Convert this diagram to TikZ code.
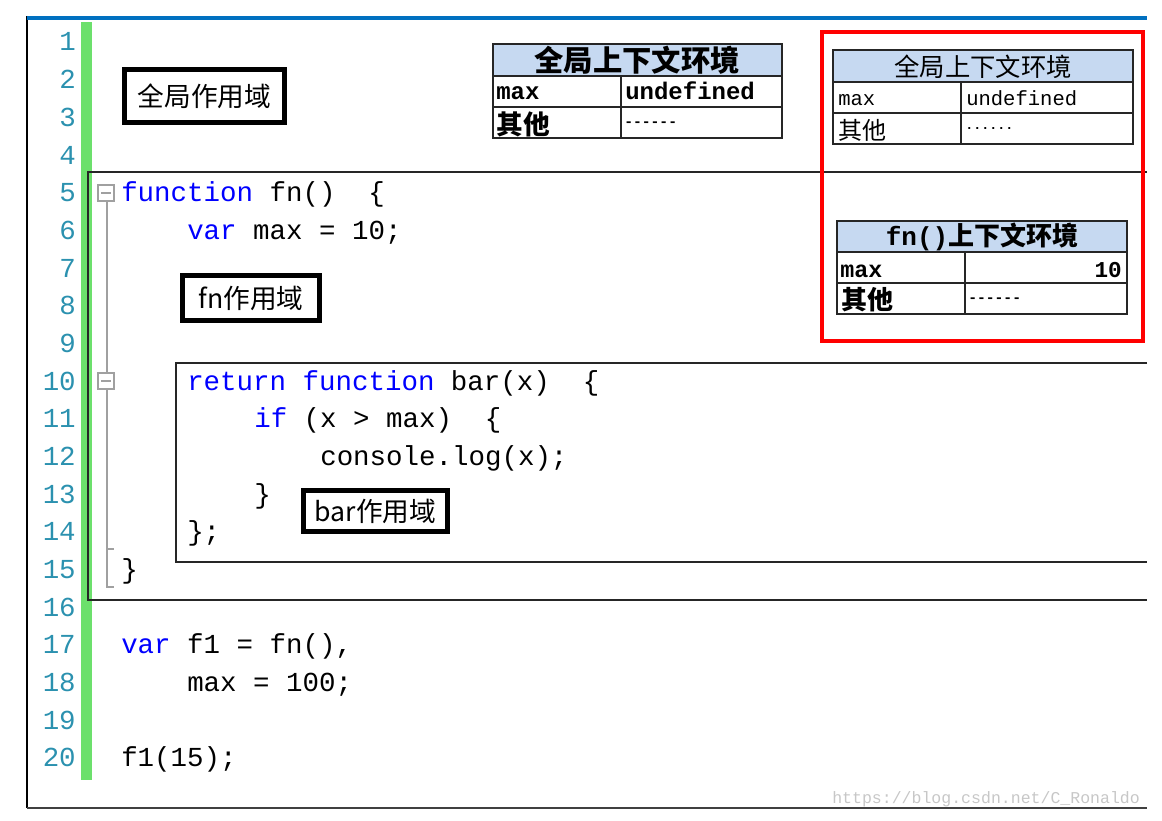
\documentclass[tikz,border=0pt]{standalone}
\usepackage{fontspec}
\setmonofont{Liberation Mono}
\newfontfamily\cjkfont{Noto Sans CJK SC}
\usetikzlibrary{positioning}
\definecolor{KW-BLUE}{RGB}{0,0,255}
\definecolor{LN-TEAL}{RGB}{43,145,175}
\definecolor{BAR-GREEN}{RGB}{108,224,108}
\definecolor{HEAD-BLUE}{RGB}{198,217,241}
\definecolor{FRAME-BLUE}{RGB}{0,112,192}
\definecolor{FOLD-GRAY}{RGB}{160,160,160}
\newcommand\kw[1]{\textcolor{KW-BLUE}{#1}}
\newcommand\codesize{\fontsize{20.6}{24}\selectfont}

\begin{document}
\begin{tikzpicture}[x=0.75pt,y=-0.75pt,
    codeline/.style={anchor=base west, inner sep=0pt, font=\ttfamily\codesize},
    lineno/.style={anchor=base east, inner sep=0pt, LN-TEAL, font=\ttfamily\codesize},
    scopebox/.style={draw, line width=3.5pt, inner sep=0pt, font=\cjkfont\fontsize{20}{24}\selectfont},
    cell/.style={anchor=base west, inner sep=0pt},
    grid/.style={draw=black!85, line width=1.2pt}]
  \useasboundingbox (0,0) rectangle (1162,820);

  % Editor gutter
  \fill[BAR-GREEN] (81,22) rectangle (92,780);
  \foreach \n in {1,...,20}
    \node[lineno] (ln\n) at (76,{42+(\n-1)*37.68+9}) {\n};

  % fn scope (open to the right)
  \draw[black!85, line width=1.5pt] (1147,172) -- (88,172) -- (88,600) -- (1147,600);
  % bar scope
  \draw[black!85, line width=1.5pt] (1147,363) -- (176,363) -- (176,562) -- (1147,562);

  % Fold markers
  \draw[FOLD-GRAY, line width=0.9pt] (98,185) rectangle (114,201);
  \draw[FOLD-GRAY, line width=0.9pt] (101,193) -- (111,193);
  \draw[FOLD-GRAY, line width=0.9pt] (98,373) rectangle (114,389);
  \draw[FOLD-GRAY, line width=0.9pt] (101,381) -- (111,381);
  \draw[FOLD-GRAY, line width=0.9pt] (107,201) -- (107,373);
  \draw[FOLD-GRAY, line width=0.9pt] (107,389) -- (107,587) -- (114,587);
  \draw[FOLD-GRAY, line width=0.9pt] (107,549) -- (114,549);

  % Code
  \node[codeline] (c5) at (121,201.7) {\kw{function} fn()\ \ \{};
  \node[codeline] (c6) at (187,239.4) {\kw{var} max = 10;};
  \node[codeline] (c10) at (187,390.1) {\kw{return} \kw{function} bar(x)\ \ \{};
  \node[codeline] (c11) at (254,427.8) {\kw{if} (x > max)\ \ \{};
  \node[codeline] (c12) at (320,465.5) {console.log(x);};
  \node[codeline] (c13) at (254,503.2) {\}};
  \node[codeline] (c14) at (187,540.8) {\};};
  \node[codeline] (c15) at (121,578.5) {\}};
  \node[codeline] (c17) at (121,653.9) {\kw{var} f1 = fn(),};
  \node[codeline] (c18) at (187,691.6) {max = 100;};
  \node[codeline] (c20) at (121,766.9) {f1(15);};

  % Scope labels
  \node[scopebox, minimum width=120pt, minimum height=40pt] (globalScope) at (204.5,96) {全局作用域};
  \node[scopebox, minimum width=103pt, minimum height=34pt] (fnScope) at (251,298) {fn作用域};
  \node[scopebox, minimum width=108pt, minimum height=31pt] (barScope) at (375.5,511) {bar作用域};

  % Global context (middle)
  \fill[HEAD-BLUE] (493,44) rectangle (782,76);
  \draw[grid] (493,44) rectangle (782,138);
  \draw[grid] (493,76) -- (782,76);
  \draw[grid] (493,107) -- (782,107);
  \draw[grid] (621,76) -- (621,138);
  \node[inner sep=0pt, font=\cjkfont\bfseries\fontsize{22}{24}\selectfont] (g1Head) at (637,60) {全局上下文环境};
  \node[cell, font=\ttfamily\bfseries\fontsize{18}{20}\selectfont] (g1Max) at (496,100) {max};
  \node[cell, font=\ttfamily\bfseries\fontsize{18}{20}\selectfont] (g1Val) at (625,100) {undefined};
  \node[inner sep=0pt, font=\cjkfont\bfseries\fontsize{20}{22}\selectfont] (g1Other) at (523,124) {其他};
  \node[cell, font=\ttfamily\bfseries\fontsize{11}{13}\selectfont] (g1Rest) at (624,127) {------};

  % Global context (red frame)
  \fill[HEAD-BLUE] (833,50) rectangle (1133,82);
  \draw[grid] (833,50) rectangle (1133,144);
  \draw[grid] (833,82) -- (1133,82);
  \draw[grid] (833,113) -- (1133,113);
  \draw[grid] (961,82) -- (961,144);
  \node[inner sep=0pt, font=\cjkfont\fontsize{19}{22}\selectfont] (g2Head) at (983,67) {全局上下文环境};
  \node[cell, font=\ttfamily\fontsize{15.4}{18}\selectfont] (g2Max) at (838,106) {max};
  \node[cell, font=\ttfamily\fontsize{15.4}{18}\selectfont] (g2Val) at (966,106) {undefined};
  \node[inner sep=0pt, font=\cjkfont\fontsize{18}{20}\selectfont] (g2Other) at (862,130) {其他};
  \node[cell, font=\ttfamily\bfseries\fontsize{10}{12}\selectfont] (g2Rest) at (965,130) {......};

  % fn() context
  \fill[HEAD-BLUE] (837,221) rectangle (1127,252);
  \draw[grid] (837,221) rectangle (1127,314);
  \draw[grid] (837,252) -- (1127,252);
  \draw[grid] (837,283) -- (1127,283);
  \draw[grid] (965,252) -- (965,314);
  \node[inner sep=0pt] (fnHead) at (982,237)
    {{\ttfamily\bfseries\fontsize{19.5}{22}\selectfont fn()}{\cjkfont\bfseries\fontsize{19.5}{22}\selectfont 上下文环境}};
  \node[cell, font=\ttfamily\bfseries\fontsize{17.5}{20}\selectfont] (fnMax) at (840,277) {max};
  \node[anchor=base east, inner sep=0pt, font=\ttfamily\bfseries\fontsize{17}{20}\selectfont] (fnVal) at (1122,277) {10};
  \node[inner sep=0pt, font=\cjkfont\bfseries\fontsize{19.5}{22}\selectfont] (fnOther) at (867,300) {其他};
  \node[cell, font=\ttfamily\bfseries\fontsize{11}{13}\selectfont] (fnRest) at (968,302) {------};

  % Execution context frame
  \draw[red, line width=2.4pt] (822,32) rectangle (1143,341);

  % Outer frame
  \draw[black, line width=1.5pt] (27,16) -- (27,808);
  \draw[black!75, line width=2pt] (27,808) -- (1147,808);
  \draw[FRAME-BLUE, line width=2.4pt] (27,18) -- (1147,18);
  \node[anchor=base west, inner sep=0pt, black!22, font=\ttfamily\fontsize{12.4}{14}\selectfont] (mark) at (832,803) {https://blog.csdn.net/C\_Ronaldo};
\end{tikzpicture}
\end{document}
